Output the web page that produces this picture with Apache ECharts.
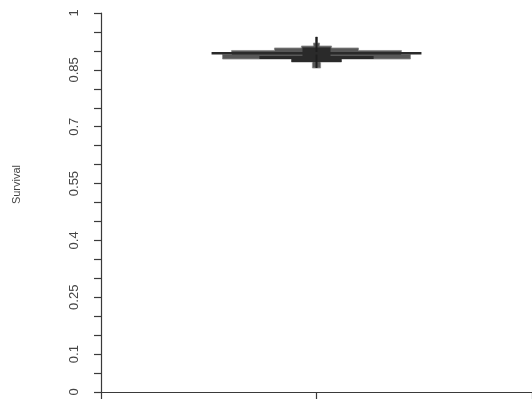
<!DOCTYPE html>
<html>
<head>
<meta charset="utf-8">
<script src="https://cdn.jsdelivr.net/npm/echarts@6/dist/echarts.min.js"></script>
<style>
  html, body { margin: 0; padding: 0; background: #fff; }
  #chart { width: 532px; height: 402px; }
</style>
</head>
<body>
<div id="chart"></div>
<script>
// Survival bean: stepped density of the estimates plus the average and range.
const binEdges = [0.8549, 0.8707, 0.8786, 0.8905, 0.9011, 0.9077, 0.9129, 0.9208, 0.9367];
const outerDensity = [0.019, 0.116, 0.436, 0.394, 0.195, 0.07, 0.014, 0.004];
const coreEdges = [0.8707, 0.8786, 0.8866, 0.9090];
const coreDensity = [0.116, 0.265, 0.065];
const beanAverage = [0.8939];
const beanRange = [0.8549, 0.9367];
const yTickLabels = ['0', '0.1', '0.25', '0.4', '0.55', '0.7', '0.85', '1'];

const MEAN_HALF_WIDTH = 0.487;

function outline(api, edges, dens) {
  const pts = [];
  for (let i = dens.length - 1; i >= 0; i--) {
    pts.push(api.coord([dens[i], edges[i + 1]]));
    pts.push(api.coord([dens[i], edges[i]]));
  }
  for (let i = 0; i < dens.length; i++) {
    pts.push(api.coord([-dens[i], edges[i]]));
    pts.push(api.coord([-dens[i], edges[i + 1]]));
  }
  return pts;
}

function renderBean(params, api) {
  const top = api.coord([0, beanRange[1]]);
  const bottom = api.coord([0, beanRange[0]]);
  const mL = api.coord([-MEAN_HALF_WIDTH, beanAverage[0]]);
  const mR = api.coord([MEAN_HALF_WIDTH, beanAverage[0]]);
  return {
    type: 'group',
    children: [
      { type: 'polygon', shape: { points: outline(api, binEdges, outerDensity) },
        style: { fill: '#575757', stroke: '#8a8a8a', lineWidth: 0.8 } },
      { type: 'polygon', shape: { points: outline(api, coreEdges, coreDensity) },
        style: { fill: '#2a2a2a' } },
      { type: 'line', shape: { x1: top[0], y1: top[1], x2: bottom[0], y2: bottom[1] },
        style: { stroke: '#1e1e1e', lineWidth: 2 } },
      { type: 'line', shape: { x1: mL[0], y1: mL[1], x2: mR[0], y2: mR[1] },
        style: { stroke: '#2a2a2a', lineWidth: 2.6 } }
    ]
  };
}

const chart = echarts.init(document.getElementById('chart'));
chart.setOption({
  animation: false,
  backgroundColor: '#fff',
  grid: { left: 101, right: 0, top: 13, bottom: 10 },
  xAxis: {
    type: 'value', min: -1, max: 1, interval: 1,
    axisLine: { show: true, onZero: false, lineStyle: { color: '#3a3a3a', width: 1.2 } },
    axisTick: { show: true, length: 7, lineStyle: { color: '#3a3a3a', width: 1.2 } },
    axisLabel: { show: false },
    splitLine: { show: false }
  },
  yAxis: {
    type: 'value', min: 0, max: 1, interval: 0.05,
    axisLine: { show: true, onZero: false, lineStyle: { color: '#3a3a3a', width: 1.2 } },
    axisTick: { show: true, length: 7, lineStyle: { color: '#3a3a3a', width: 1.2 } },
    splitLine: { show: false },
    axisLabel: {
      rotate: 90, margin: 20,
      fontFamily: 'Liberation Sans, Arial, sans-serif', fontSize: 13, color: '#444',
      showMinLabel: true, showMaxLabel: true,
      formatter: function (v) {
        const s = String(Math.round(v * 100) / 100);
        return yTickLabels.indexOf(s) >= 0 ? s : '';
      }
    }
  },
  graphic: [{
    type: 'text', left: 11, top: 165, rotation: Math.PI / 2,
    style: { text: 'Survival', fontFamily: 'Liberation Sans, Arial, sans-serif', fontSize: 11, fill: '#444' }
  }],
  series: [{
    type: 'custom', renderItem: renderBean, data: [[0, beanAverage[0]]],
    clip: false
  }]
});
</script>
</body>
</html>
